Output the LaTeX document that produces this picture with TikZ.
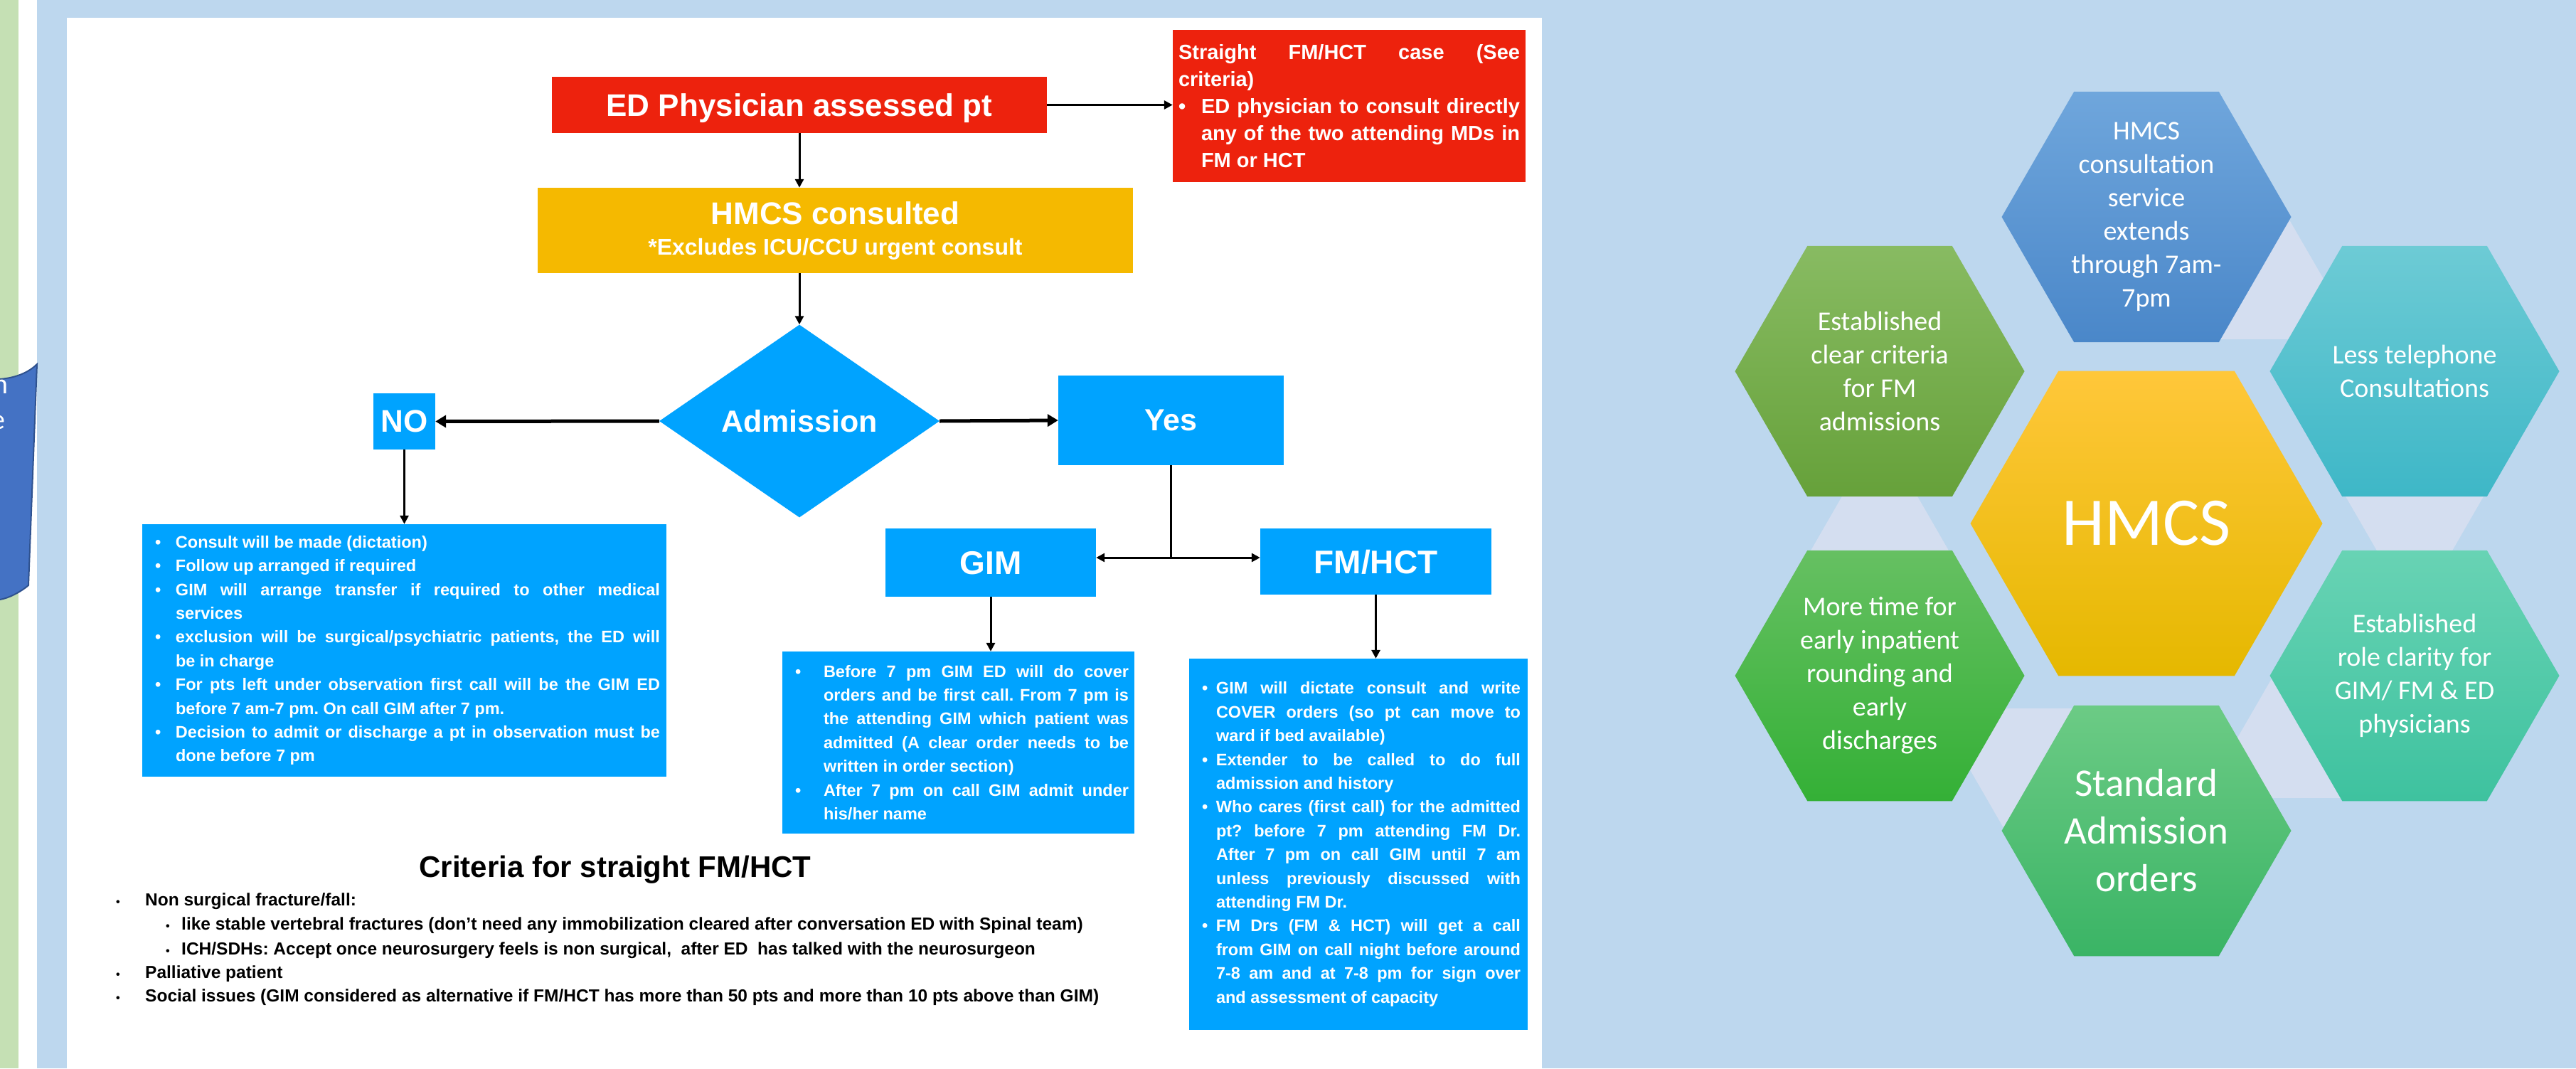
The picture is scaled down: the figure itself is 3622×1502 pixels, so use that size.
\documentclass[tikz,border=0pt]{standalone}
\usepackage{fontspec}
\setmainfont{Liberation Sans}
\newfontfamily\calfont{Carlito}
\usepackage{tikz}
\usetikzlibrary{arrows.meta,shapes.geometric}

\definecolor{bgblue}{HTML}{BDD7EE}
\definecolor{stripgreen}{HTML}{C5E0B4}
\definecolor{tabblue}{HTML}{4472C4}
\definecolor{tabedge}{HTML}{2F528F}
\definecolor{flowblue}{HTML}{00A3FF}
\definecolor{flowred}{HTML}{ED220D}
\definecolor{flowyellow}{HTML}{F5B900}
\definecolor{linkfill}{HTML}{D4DEF0}
\definecolor{hexT1}{HTML}{6FA6DC}  \definecolor{hexT2}{HTML}{4A87C9}
\definecolor{hexTR1}{HTML}{6DCBD5} \definecolor{hexTR2}{HTML}{3EB7C7}
\definecolor{hexBR1}{HTML}{68D3B4} \definecolor{hexBR2}{HTML}{3EC29F}
\definecolor{hexB1}{HTML}{6CCB85}  \definecolor{hexB2}{HTML}{3AB465}
\definecolor{hexBL1}{HTML}{66C062} \definecolor{hexBL2}{HTML}{34B036}
\definecolor{hexTL1}{HTML}{88BB62} \definecolor{hexTL2}{HTML}{66A13A}
\definecolor{hexC1}{HTML}{FFC73A}  \definecolor{hexC2}{HTML}{E5B800}

\newcommand{\pxfont}[2]{\fontsize{#1pt}{#2pt}\selectfont}
\newcommand{\bul}[1]{\hangindent=#1pt\hangafter=1\makebox[#1pt][l]{\textbullet}}
\newcommand{\critbul}[1]{\makebox[#1pt][l]{\pxfont{16}{16}\textbullet}}
\frenchspacing

\begin{document}
\begin{tikzpicture}[x=1pt,y=-1pt,
  box/.style={fill=flowblue,text=white,inner sep=0pt,font=\bfseries\pxfont{44}{44}},
  head/.style={box,text depth=0pt},
  listbox/.style={box,align=justify,font=\bfseries\pxfont{23.5}{33.4}},
  flow/.style={line width=3pt,-{Triangle[length=12pt,width=12pt]}},
  bigflow/.style={line width=5pt,-{Triangle[length=15pt,width=17pt]}},
  hextext/.style={text=white,align=center,font=\calfont\pxfont{38}{47}},
  crit/.style={anchor=base west,inner sep=0pt,font=\bfseries\pxfont{24.5}{33.75}}]
 \def\hexR{203.5} % outer cells
 \def\midR{247.5} % centre cell
 \useasboundingbox (0,0) rectangle (3622,1502);
% page background
 \fill[stripgreen] (0,0) rectangle (26,1502);
 \fill[white] (26,0) rectangle (52,1502);
 \fill[bgblue] (52,0) rectangle (3622,1502);
 \fill[white] (94,25) rectangle (2168,1502);
 \filldraw[fill=tabblue,draw=tabedge,line width=2pt] (-10,534) -- (0,533)
   .. controls (25,531) and (42,522) .. (52,512) -- (40,823)
   .. controls (28,833) and (12,841) .. (0,843) -- (-10,844) -- cycle;
 \node[text=white,font=\calfont\pxfont{40}{40},anchor=base east,inner sep=0pt] (tabn) at (12,553) {n};
 \node[text=white,font=\calfont\pxfont{40}{40},anchor=base east,inner sep=0pt] (tabe) at (8,603) {e};
% flowchart
 \node[head,fill=flowred,minimum width=696pt,minimum height=79pt] (ed) at (1124,147.5) {ED Physician assessed pt};
 \node[listbox,fill=flowred,text width=496pt,minimum height=214pt,font=\bfseries\pxfont{29}{38}] (direct) at (1897,149)
   {\leftskip=8pt\rightskip=8pt Straight FM/HCT case (See \linebreak criteria)\par
    \bul{32}ED physician to consult directly \linebreak any of the two attending MDs in \linebreak FM or HCT\par};
 \node[box,fill=flowyellow,minimum width=837pt,minimum height=120pt,align=center] (hmcs) at (1174.5,324)
   {HMCS consulted\\[-1pt]{\pxfont{32}{32}*Excludes ICU/CCU urgent consult}};
 \node[head,diamond,minimum width=394pt,minimum height=271pt,font=\bfseries\pxfont{43}{43}] (adm) at (1124,592) {Admission};
 \node[head,minimum width=87pt,minimum height=79pt] (no) at (568.5,592.5) {NO};
 \node[head,minimum width=317pt,minimum height=126pt,font=\bfseries\pxfont{43}{43}] (yes) at (1646.5,591) {Yes};
 \node[head,minimum width=296pt,minimum height=96pt,font=\bfseries\pxfont{46}{46}] (gim) at (1393,791) {GIM};
 \node[head,minimum width=325pt,minimum height=93pt,font=\bfseries\pxfont{46}{46}] (fm) at (1934.5,789.5) {FM/HCT};
 \node[listbox,text width=737pt,minimum height=355pt] (nolist) at (568.5,914.5)
   {\leftskip=18pt\rightskip=9pt
    \bul{29}Consult will be made (dictation)\par
    \bul{29}Follow up arranged if required\par
    \bul{29}GIM will arrange transfer if required to other medical \linebreak services\par
    \bul{29}exclusion will be surgical/psychiatric patients, the ED will \linebreak be in charge\par
    \bul{29}For pts left under observation first call will be the GIM ED \linebreak before 7 am-7 pm. On call GIM after 7 pm.\par
    \bul{29}Decision to admit or discharge a pt in observation must be \linebreak done before 7 pm\par};
 \node[listbox,text width=495pt,minimum height=256pt] (gimlist) at (1347.5,1044)
   {\leftskip=18pt\rightskip=8pt
    \bul{40}Before 7 pm GIM ED will do cover \linebreak orders and be first call. From 7 pm is \linebreak the attending GIM which patient was \linebreak admitted (A clear order needs to be \linebreak written in order section)\par
    \bul{40}After 7 pm on call GIM admit under \linebreak his/her name\par};
 \node[listbox,text width=476pt,minimum height=522pt] (fmlist) at (1910,1187)
   {\leftskip=18pt\rightskip=10pt
    \bul{20}GIM will dictate consult and write \linebreak COVER orders (so pt can move to \linebreak ward if bed available)\par
    \bul{20}Extender to be called to do full \linebreak admission and history\par
    \bul{20}Who cares (first call) for the admitted \linebreak pt? before 7 pm attending FM Dr. \linebreak After 7 pm on call GIM until 7 am \linebreak unless previously discussed with \linebreak attending FM Dr.\par
    \bul{20}FM Drs (FM \& HCT) will get a call \linebreak from GIM on call night before around \linebreak 7-8 am and at 7-8 pm for sign over \linebreak and assessment of capacity\par};
 \draw[flow] (ed.east) -- (ed.east -| direct.west);
 \draw[flow] (ed.south) -- (ed.south |- hmcs.north);
 \draw[flow] (hmcs.south -| adm.north) -- (adm.north);
 \draw[bigflow] (adm.west) -- (no.east);
 \draw[bigflow] (adm.east) -- (yes.west);
 \draw[flow] (no.south) -- (nolist.north);
 \coordinate (split) at (1646,784);
 \draw[line width=3pt] (yes.south -| split) -- (split);
 \draw[flow,{Triangle[length=12pt,width=12pt]}-{Triangle[length=12pt,width=12pt]}] (split -| gim.east) -- (split -| fm.west);
 \draw[flow] (gim.south) -- (gim.south |- gimlist.north);
 \draw[flow] (fm.south) -- (fm.south |- fmlist.north);
% criteria
 \node[font=\bfseries\pxfont{42}{42},anchor=base,inner sep=0pt] (crittitle) at (865,1233) {Criteria for straight FM/HCT};
 \node[crit] (crit1) at (163,1273) {\critbul{41}Non surgical fracture/fall:};
 \node[crit] (crit2) at (233,1307) {\critbul{22}like stable vertebral fractures (don't need any immobilization cleared after conversation ED with Spinal team)};
 \node[crit] (crit3) at (233,1342) {\critbul{22}ICH/SDHs: Accept once neurosurgery feels is non surgical,\ \ after ED\ \ has talked with the neurosurgeon};
 \node[crit] (crit4) at (163,1375) {\critbul{41}Palliative patient};
 \node[crit] (crit5) at (163,1408) {\critbul{41}Social issues (GIM considered as alternative if FM/HCT has more than 50 pts and more than 10 pts above than GIM)};
% hexagon cluster
 \foreach \ax/\ay/\ang in {3018/305/30,3395/522/90,3395/950/150,3018/1168/210,2643/950/270}
   \fill[linkfill] (\ax,\ay) +(\ang+90:198.5) -- +(\ang:344) -- +(\ang-90:198.5) -- cycle;
 \foreach \cx/\cy/\hc in {3018/305/hexT,3395/522/hexTR,3395/950/hexBR,3018/1168/hexB,2643/950/hexBL,2643/522/hexTL}
   \shade[top color=\hc1,bottom color=\hc2] (\cx,\cy) +(0:\hexR) -- +(60:\hexR) -- +(120:\hexR)
     -- +(180:\hexR) -- +(240:\hexR) -- +(300:\hexR) -- cycle;
 \shade[top color=hexC1,bottom color=hexC2] (3018,736) +(0:\midR) -- +(60:\midR) -- +(120:\midR)
   -- +(180:\midR) -- +(240:\midR) -- +(300:\midR) -- cycle;
 \node[hextext] (cellT) at (3018,305) {HMCS\\consultation\\service\\extends\\through 7am-\\7pm};
 \node[hextext] (cellTR) at (3395,522) {Less telephone\\Consultations};
 \node[hextext] (cellBR) at (3395,950) {Established\\role clarity for\\GIM/ FM \& ED\\physicians};
 \node[hextext,font=\calfont\pxfont{55}{67}] (cellB) at (3018,1168) {Standard\\Admission\\orders};
 \node[hextext] (cellBL) at (2643,950) {More time for\\early inpatient\\rounding and\\early\\discharges};
 \node[hextext] (cellTL) at (2643,522) {Established\\clear criteria\\for FM\\admissions};
 \node[hextext,font=\calfont\pxfont{96}{96}] (cellC) at (3018,736) {HMCS};
\end{tikzpicture}
\end{document}
